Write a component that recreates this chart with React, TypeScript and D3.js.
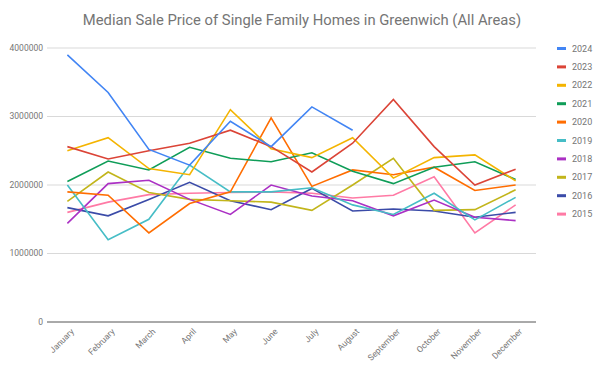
import React, { useEffect, useRef } from 'react'
import * as d3 from 'd3'

const months = ['January', 'February', 'March', 'April', 'May', 'June', 'July', 'August', 'September', 'October', 'November', 'December']
const years = ['2024', '2023', '2022', '2021', '2020', '2019', '2018', '2017', '2016', '2015']
const colors = ['#4285f4', '#db4437', '#f4b400', '#0f9d58', '#ff6d01', '#46bdc6', '#ab30c4', '#c2b51b', '#3b4ba8', '#ff7aa5']
const yTicks = [0, 1000000, 2000000, 3000000, 4000000]

const s2024 = [3900000, 3350000, 2520000, 2290000, 2930000, 2560000, 3140000, 2800000]
const s2023 = [2560000, 2380000, 2500000, 2610000, 2800000, 2560000, 2190000, 2610000, 3250000, 2560000, 2000000, 2230000]
const s2022 = [2500000, 2690000, 2240000, 2150000, 3100000, 2530000, 2400000, 2690000, 2100000, 2400000, 2440000, 2060000]
const s2021 = [2050000, 2350000, 2220000, 2550000, 2390000, 2340000, 2470000, 2200000, 2020000, 2260000, 2340000, 2080000]
const s2020 = [1900000, 1850000, 1300000, 1730000, 1900000, 2980000, 1980000, 2220000, 2150000, 2260000, 1920000, 2000000]
const s2019 = [2000000, 1200000, 1500000, 2290000, 1900000, 1900000, 1960000, 1710000, 1570000, 1880000, 1490000, 1820000]
const s2018 = [1440000, 2020000, 2070000, 1790000, 1570000, 2000000, 1840000, 1770000, 1550000, 1780000, 1530000, 1480000]
const s2017 = [1760000, 2190000, 1890000, 1790000, 1770000, 1750000, 1630000, 2000000, 2390000, 1630000, 1640000, 1930000]
const s2016 = [1670000, 1550000, 1790000, 2040000, 1770000, 1640000, 1950000, 1620000, 1650000, 1620000, 1530000, 1600000]
const s2015 = [1600000, 1750000, 1860000, 1880000, 1890000, 1900000, 1880000, 1810000, 1850000, 2120000, 1300000, 1710000]

const series = [s2024, s2023, s2022, s2021, s2020, s2019, s2018, s2017, s2016, s2015]

export default function App() {
  const svgRef = useRef<SVGSVGElement>(null)

  useEffect(() => {
    const w = 610
    const h = 385
    const m = { left: 47, right: 536, top: 48, bottom: 322 }
    const font = 'Roboto, sans-serif'
    const svg = d3.select(svgRef.current)
      .attr('width', w)
      .attr('height', h)
      .style('background', '#fff')
    svg.selectAll('*').remove()

    const x = d3.scalePoint<string>()
      .domain(months)
      .range([m.left, m.right])
      .padding(0.5)
    const y = d3.scaleLinear()
      .domain([0, 4000000])
      .range([m.bottom, m.top])

    svg.append('text')
      .attr('x', 302)
      .attr('y', 25)
      .attr('text-anchor', 'middle')
      .attr('font-family', font)
      .attr('font-size', 14.8)
      .attr('fill', '#757575')
      .text('Median Sale Price of Single Family Homes in Greenwich (All Areas)')

    // gridlines + y labels
    const grid = svg.append('g')
    grid.selectAll('line')
      .data(yTicks.filter(t => t > 0))
      .join('line')
      .attr('x1', m.left)
      .attr('x2', m.right)
      .attr('y1', d => y(d))
      .attr('y2', d => y(d))
      .attr('stroke', '#d9d9d9')
      .attr('stroke-width', 1)
    grid.selectAll('text')
      .data(yTicks)
      .join('text')
      .attr('x', m.left - 4)
      .attr('y', d => y(d))
      .attr('dy', '0.35em')
      .attr('text-anchor', 'end')
      .attr('font-family', font)
      .attr('font-size', 8.5)
      .attr('fill', '#757575')
      .text(d => String(d))

    const line = d3.line<number>()
      .x((d, i) => x(months[i]) as number)
      .y(d => y(d))

    svg.append('g')
      .selectAll('path')
      .data(series.slice().reverse())
      .join('path')
      .attr('d', d => line(d))
      .attr('fill', 'none')
      .attr('stroke', (d, i) => colors[series.length - 1 - i])
      .attr('stroke-width', 1.6)

    // baseline
    svg.append('line')
      .attr('x1', m.left)
      .attr('x2', m.right)
      .attr('y1', y(0))
      .attr('y2', y(0))
      .attr('stroke', '#555')
      .attr('stroke-width', 1)

    svg.append('g')
      .selectAll('text')
      .data(months)
      .join('text')
      .attr('transform', d => `translate(${(x(d) as number) + 5},${y(0) + 8}) rotate(-45)`)
      .attr('text-anchor', 'end')
      .attr('dy', '0.35em')
      .attr('font-family', font)
      .attr('font-size', 8.5)
      .attr('fill', '#757575')
      .text(d => d)

    const legend = svg.append('g')
      .selectAll('g')
      .data(years)
      .join('g')
      .attr('transform', (d, i) => `translate(557,${48.5 + i * 18.4})`)
    legend.append('rect')
      .attr('x', 0)
      .attr('y', -1.5)
      .attr('width', 9)
      .attr('height', 3)
      .attr('fill', (d, i) => colors[i])
    legend.append('text')
      .attr('x', 15)
      .attr('dy', '0.35em')
      .attr('font-family', font)
      .attr('font-size', 9)
      .attr('fill', '#757575')
      .text(d => d)
  }, [])

  return (
    <div>
      <svg ref={svgRef} style={{ position: 'absolute', left: 0, top: 0 }}></svg>
    </div>
  )
}
